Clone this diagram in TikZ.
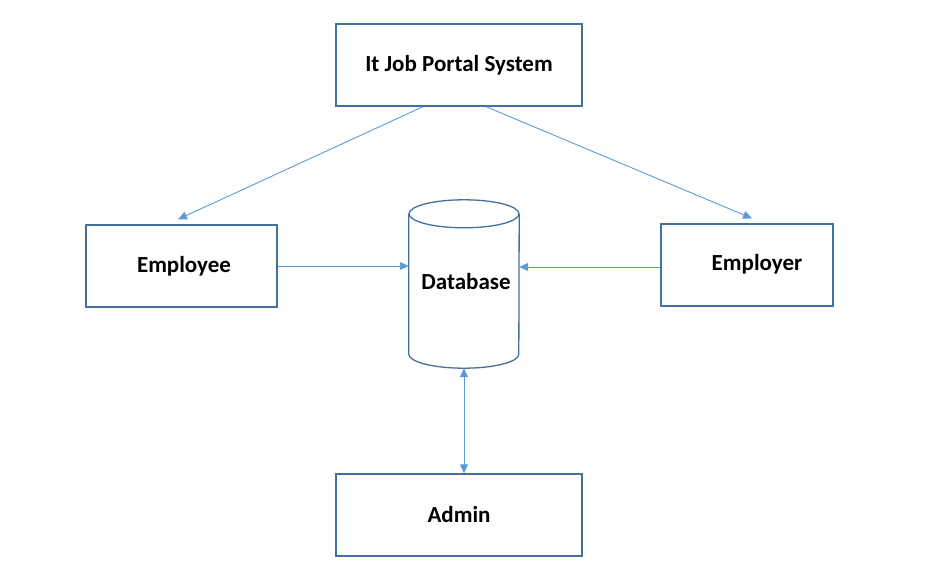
\documentclass[tikz,border=0pt]{standalone}
\usepackage{fontspec}
\setmainfont{Carlito}
\usetikzlibrary{arrows.meta,calc}
\definecolor{boxc}{HTML}{41719C}
\definecolor{arrc}{HTML}{5B9BD5}
\tikzset{
  lbl/.style={font=\fontsize{23}{26}\selectfont\bfseries},
  box/.style={draw=boxc,line width=1.3pt,minimum width=#1,minimum height=82pt,inner sep=0pt,lbl},
  conn/.style={draw=arrc,line width=0.9pt,-{Triangle[length=9pt,width=8pt]}},
  dconn/.style={draw=arrc,line width=0.9pt,{Triangle[length=9pt,width=8pt]}-{Triangle[length=9pt,width=8pt]}}
}
\begin{document}
\begin{tikzpicture}[x=1pt,y=-1pt]
\useasboundingbox (0,0) rectangle (928,564);
\node[box=246pt] (top) at (459,65) {It Job Portal System};
\node[box=191pt] (emp) at (181.5,266) {};
\node[lbl] (emplbl) at (184,266) {Employee};
\node[box=172pt] (empr) at (747,265) {};
\node[lbl] (emprlbl) at (757,264) {Employer};
\node[box=246pt] (adm) at (459,515) {Admin};
% database cylinder
\node[minimum width=110pt,minimum height=168pt,inner sep=0pt] (db) at (464,284) {};
\node[lbl] (dblbl) at (466,282) {Database};
\draw[boxc,line width=1.3pt]
  ($(db.north west)+(0,14)$) -- ($(db.south west)+(0,-14)$)
  arc[start angle=180,end angle=360,x radius=55pt,y radius=14pt]
  -- ($(db.north east)+(0,14)$);
\draw[boxc,line width=1.3pt] ($(db.north)+(0,14)$) ellipse[x radius=55pt,y radius=14pt];
% connectors
\draw[conn] ([xshift=-36pt]top.south) -- ([xshift=-3.5pt,yshift=5pt]emp.north);
\draw[conn] ([xshift=27pt]top.south) -- ([xshift=5pt,yshift=5pt]empr.north);
\draw[conn] (emp.east) -- (db.west |- emp.east);
\draw[conn] ([yshift=-2pt]empr.west) -- ([yshift=-2pt]db.east |- empr.west);
\draw[dconn] (db.south) -- (db.south |- adm.north);
\end{tikzpicture}
\end{document}
